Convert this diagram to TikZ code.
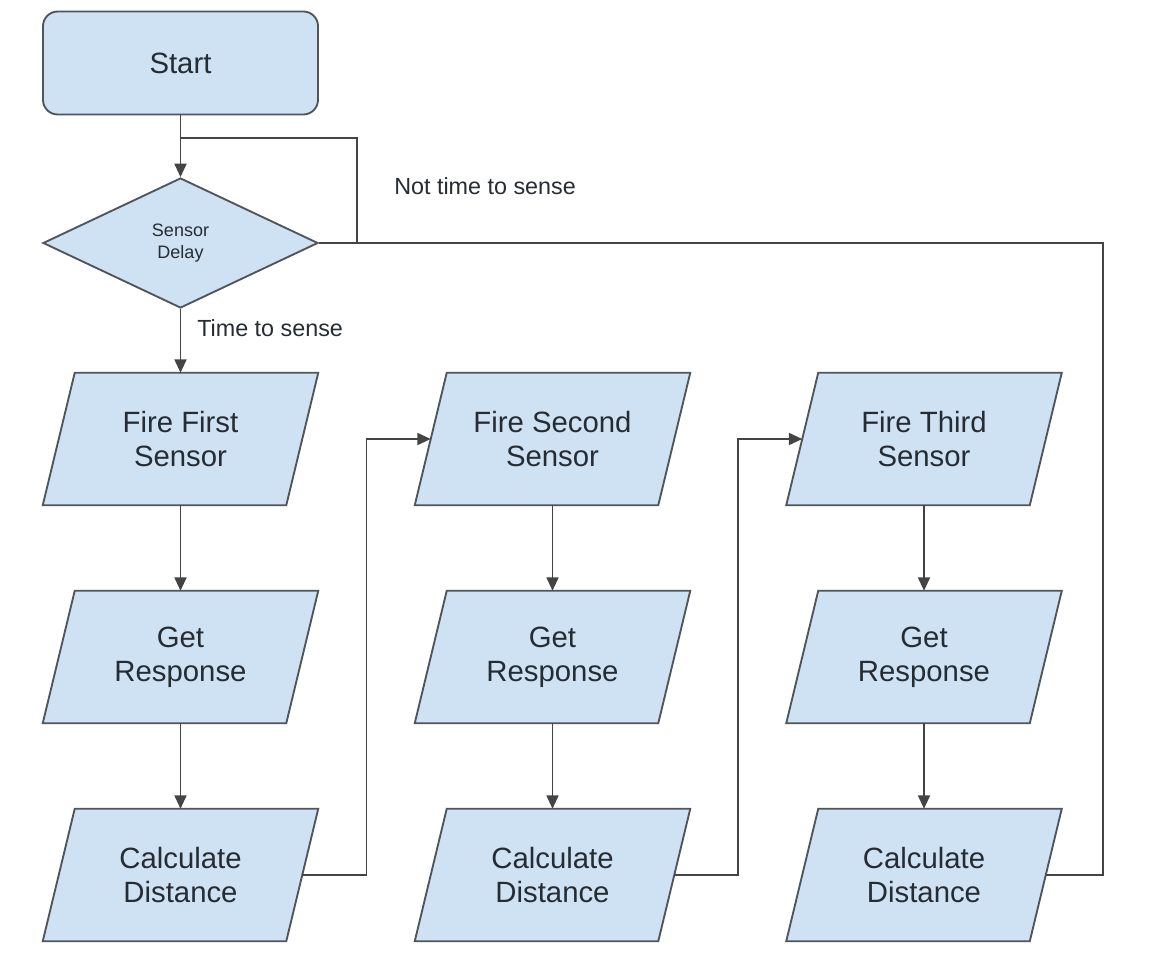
\documentclass[tikz,border=0pt]{standalone}
\usepackage{fontspec}
\setmainfont{Liberation Sans}
\usetikzlibrary{shapes.geometric,arrows.meta,calc,backgrounds}
\definecolor{boxfill}{HTML}{CFE2F3}
\definecolor{edgecol}{HTML}{50555B}
\definecolor{linecol}{HTML}{444444}
\definecolor{txt}{HTML}{262C33}
\begin{document}
\begin{tikzpicture}[x=0.75pt,y=-0.75pt,
  shapebase/.style={draw=edgecol, line width=1.4pt, fill=boxfill, text=txt, inner sep=0pt, align=center},
  startbox/.style={shapebase, rectangle, rounded corners=11pt, minimum width=206.25pt, minimum height=77.25pt, font=\fontsize{22}{25.5}\selectfont},
  decision/.style={shapebase, diamond, minimum width=206.25pt, minimum height=97.5pt, font=\fontsize{13.5}{16.5}\selectfont},
  iobox/.style={rectangle, text=txt, inner sep=0pt, align=center, minimum width=182.25pt, minimum height=99pt, font=\fontsize{22}{25.5}\selectfont},
  ioshape/.style={draw=edgecol, line width=1.4pt, fill=boxfill, line join=miter},
  conn/.style={draw=linecol, line width=1.3pt},
  arrowconn/.style={conn, -{Triangle[length=10pt,width=9pt]}},
  lbl/.style={text=txt, inner sep=0pt, anchor=west, font=\fontsize{17.5}{20}\selectfont}
]
\useasboundingbox (0,0) rectangle (1173,970);

\node[startbox] (start) at (180.5,63) {Start};
\node[decision] (delay) at (180.5,243) {Sensor\\Delay};

\node[iobox] (f1) at (180.5,439) {Fire First\\Sensor};
\node[iobox] (g1) at (180.5,657) {Get\\Response};
\node[iobox] (c1) at (180.5,875) {Calculate\\Distance};

\node[iobox] (f2) at (552.5,439) {Fire Second\\Sensor};
\node[iobox] (g2) at (552.5,657) {Get\\Response};
\node[iobox] (c2) at (552.5,875) {Calculate\\Distance};

\node[iobox] (f3) at (924,439) {Fire Third\\Sensor};
\node[iobox] (g3) at (924,657) {Get\\Response};
\node[iobox] (c3) at (924,875) {Calculate\\Distance};

\begin{pgfonlayer}{background}
  \fill[white] (0,0) rectangle (1173,970);
  \foreach \n in {f1,g1,c1,f2,g2,c2,f3,g3,c3} {
    \filldraw[ioshape] ($(\n.north west)+(16,0)$) -- ($(\n.north east)+(16,0)$)
      -- ($(\n.south east)+(-16,0)$) -- ($(\n.south west)+(-16,0)$) -- cycle;
  }
\end{pgfonlayer}

\node[lbl] (nts) at (394,186) {Not time to sense};
\node[lbl] (ts) at (197,328) {Time to sense};

\coordinate (j1) at (357,243);
\coordinate (j2) at (357,138);
\coordinate (j3) at (180.5,138);
\coordinate (r1) at (1103,243);

\draw[arrowconn] (start.south) -- (delay.north);
\draw[conn] (delay.east) -- (j1) -- (j2) -- (j3);
\draw[conn] (c3.east) -| (r1) -- (j1);

\draw[arrowconn] (delay.south) -- (f1.north);
\draw[arrowconn] (f1.south) -- (g1.north);
\draw[arrowconn] (g1.south) -- (c1.north);
\draw[arrowconn] (f2.south) -- (g2.north);
\draw[arrowconn] (g2.south) -- (c2.north);
\draw[arrowconn] (f3.south) -- (g3.north);
\draw[arrowconn] (g3.south) -- (c3.north);

\draw[arrowconn] (c1.east) -| ($(c1.east)!0.5!(f2.west)$) |- (f2.west);
\draw[arrowconn] (c2.east) -| ($(c2.east)!0.5!(f3.west)$) |- (f3.west);
\end{tikzpicture}
\end{document}
